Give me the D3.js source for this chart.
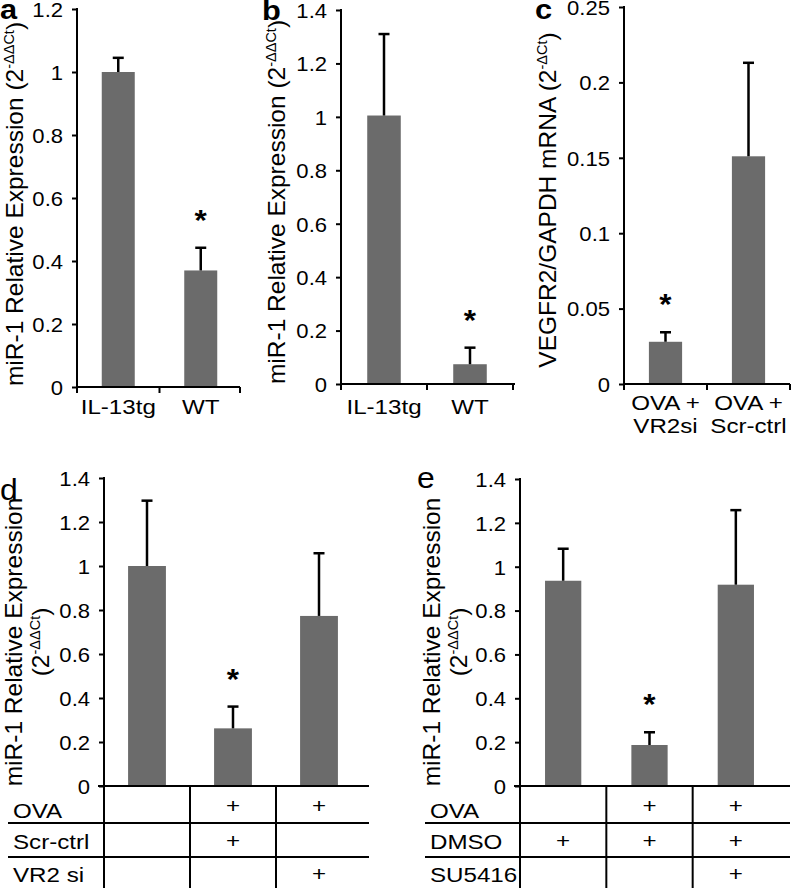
<!DOCTYPE html>
<html>
<head>
<meta charset="utf-8">
<script src="https://cdn.jsdelivr.net/npm/d3@7"></script>
<style>
  body { margin: 0; background: #fff; }
  svg { display: block; }
  text { font-family: "Liberation Sans", Arial, Helvetica, sans-serif; fill: #000; }
</style>
</head>
<body>
<svg id="chart" width="791" height="888"></svg>
<script>
// ---------------- DATA ----------------
const aCategories = [["IL-13tg"], ["WT"]];
const aValues = [1.0, 0.37];
const aErrors = [0.045, 0.072];
const aSignif = [false, true];
const aTicks = [0, 0.2, 0.4, 0.6, 0.8, 1, 1.2];

const bCategories = [["IL-13tg"], ["WT"]];
const bValues = [1.005, 0.074];
const bErrors = [0.305, 0.062];
const bSignif = [false, true];
const bTicks = [0, 0.2, 0.4, 0.6, 0.8, 1, 1.2, 1.4];

const cCategories = [["OVA +", "VR2si"], ["OVA +", "Scr-ctrl"]];
const cValues = [0.028, 0.151];
const cErrors = [0.0063, 0.062];
const cSignif = [true, false];
const cTicks = [0, 0.05, 0.1, 0.15, 0.2, 0.25];

const dValues = [1.0, 0.262, 0.773];
const dErrors = [0.297, 0.099, 0.285];
const dSignif = [false, true, false];
const dTicks = [0, 0.2, 0.4, 0.6, 0.8, 1, 1.2, 1.4];
const dRows = ["OVA", "Scr-ctrl", "VR2 si"];
const dMarks = [[false, true, true], [false, true, false], [false, false, true]];

const eValues = [0.936, 0.187, 0.918];
const eErrors = [0.146, 0.058, 0.34];
const eSignif = [false, true, false];
const eTicks = [0, 0.2, 0.4, 0.6, 0.8, 1, 1.2, 1.4];
const eRows = ["OVA", "DMSO", "SU5416"];
const eMarks = [[false, true, true], [true, true, true], [false, false, true]];

// ---------------- DRAWING ----------------
const svg = d3.select("#chart");
const BAR = "#6b6b6b";
const SX = 1.15;      // horizontal stretch of upright labels
const LABEL_SIZE = 21;
const TICK_SIZE = 21;
const TITLE_SIZE = 24.5;

function htext(g, x, y, str, size, anchor, sx, weight) {
  return g.append("text")
    .attr("transform", `translate(${x},${y}) scale(${sx},1)`)
    .attr("text-anchor", anchor)
    .attr("font-size", size)
    .attr("font-weight", weight || "normal")
    .text(str);
}

function vtitle(g, x, y, main, sup, tail) {
  const t = g.append("text")
    .attr("transform", `translate(${x},${y}) rotate(-90)`)
    .attr("text-anchor", "middle")
    .attr("font-size", TITLE_SIZE);
  t.append("tspan").text(main);
  if (sup) {
    t.append("tspan").attr("font-size", 14.5).attr("dy", -9.5).text(sup);
    t.append("tspan").attr("dy", 9.5).text(tail);
  }
}

function panel(L, values, errors, signif, ticks) {
  const g = svg.append("g");
  const n = values.length;
  const x = d3.scaleBand().domain(d3.range(n)).range([L.x0, L.x1])
    .paddingInner(L.pad).paddingOuter(L.pad / 2);
  const y = d3.scaleLinear().domain([0, ticks[ticks.length - 1]]).range([L.yb, L.yt]);
  const cx = i => x(i) + x.bandwidth() / 2;

  // bars
  g.selectAll("rect.bar").data(values).join("rect")
    .attr("class", "bar")
    .attr("x", (d, i) => x(i)).attr("y", d => y(d))
    .attr("width", x.bandwidth()).attr("height", d => y(0) - y(d))
    .attr("fill", BAR);

  // error bars
  const eb = g.selectAll("g.err").data(values).join("g").attr("class", "err");
  eb.append("line")
    .attr("x1", (d, i) => cx(i)).attr("x2", (d, i) => cx(i))
    .attr("y1", d => y(d)).attr("y2", (d, i) => y(d + errors[i]))
    .attr("stroke", "#000").attr("stroke-width", 2.5);
  eb.append("line")
    .attr("x1", (d, i) => cx(i) - 5.5).attr("x2", (d, i) => cx(i) + 5.5)
    .attr("y1", (d, i) => y(d + errors[i])).attr("y2", (d, i) => y(d + errors[i]))
    .attr("stroke", "#000").attr("stroke-width", 2.5);

  // significance asterisks
  values.forEach((d, i) => {
    if (signif[i]) {
      htext(g, cx(i), y(d + errors[i]) - 35 + 17, "*", 30, "middle", 1.05, "bold");
    }
  });

  // y axis ticks + labels
  const ax = g.append("g").attr("transform", `translate(${L.x0},0)`)
    .call(d3.axisLeft(y).tickValues(ticks).tickFormat(d => String(d))
      .tickSize(5).tickSizeOuter(0).tickPadding(9));
  ax.select(".domain").remove();
  ax.selectAll(".tick line").attr("stroke", "#000").attr("stroke-width", 2);
  ax.selectAll(".tick text")
    .attr("font-size", TICK_SIZE)
    .attr("font-family", '"Liberation Sans", Arial, sans-serif')
    .attr("fill", "#000")
    .attr("x", -14 / 1.05)
    .attr("dy", "0.35em")
    .attr("transform", "scale(1.05,1)");

  // y axis line
  g.append("line").attr("x1", L.x0).attr("x2", L.x0)
    .attr("y1", L.yt - 1).attr("y2", L.yAxisBottom || L.yb)
    .attr("stroke", "#000").attr("stroke-width", 2);

  // x axis line
  g.append("line").attr("x1", L.xAxisStart || L.x0).attr("x2", L.xEnd)
    .attr("y1", L.yb).attr("y2", L.yb)
    .attr("stroke", "#000").attr("stroke-width", 2);

  return { g, x, y, cx };
}

function catAxis(P, L, cats) {
  const n = cats.length;
  const step = P.x.step();
  d3.range(n + 1).forEach(i => {
    const xx = Math.min(L.x0 + i * step, L.xEnd);
    P.g.append("line").attr("x1", xx).attr("x2", xx)
      .attr("y1", L.yb).attr("y2", L.yb + 6)
      .attr("stroke", "#000").attr("stroke-width", 2);
  });
  cats.forEach((lines, i) => {
    lines.forEach((s, k) => {
      htext(P.g, P.cx(i), L.lab + k * 23, s, LABEL_SIZE, "middle", SX);
    });
  });
}

function table(P, L, rows, marks) {
  const n = marks[0].length;
  const step = P.x.step();
  // column separators
  d3.range(n).forEach(i => {
    const xx = L.x0 + i * step;
    P.g.append("line").attr("x1", xx).attr("x2", xx)
      .attr("y1", L.yb).attr("y2", 888)
      .attr("stroke", "#000").attr("stroke-width", 2);
  });
  // row separators
  L.rowLines.forEach(yy => {
    P.g.append("line").attr("x1", L.tableLeft).attr("x2", L.xEnd)
      .attr("y1", yy).attr("y2", yy)
      .attr("stroke", "#000").attr("stroke-width", 2);
  });
  rows.forEach((r, k) => {
    htext(P.g, L.tableLeft + 5, L.rowBase[k], r, LABEL_SIZE, "start", SX);
    marks[k].forEach((m, i) => {
      if (m) htext(P.g, P.cx(i), L.plusBase[k], "+", LABEL_SIZE, "middle", SX);
    });
  });
}

// ---- panel a ----
const LA = { x0: 77, x1: 242, xEnd: 240, yt: 9, yb: 387, pad: 0.6, lab: 414 };
const PA = panel(LA, aValues, aErrors, aSignif, aTicks);
catAxis(PA, LA, aCategories);
vtitle(PA.g, 23, 204, "miR-1 Relative Expression (2", "-ΔΔCt", ")");
htext(PA.g, 0, 19, "a", 28, "start", 1.1, "bold");

// ---- panel b ----
const LB = { x0: 341, x1: 513, xEnd: 515, yt: 10, yb: 384, pad: 0.61, lab: 414 };
const PB = panel(LB, bValues, bErrors, bSignif, bTicks);
catAxis(PB, LB, bCategories);
vtitle(PB.g, 285, 202, "miR-1 Relative Expression (2", "-ΔΔCt", ")");
htext(PB.g, 262, 20, "b", 28, "start", 1.1, "bold");

// ---- panel c ----
const LC = { x0: 624, x1: 790, xEnd: 790, yt: 7, yb: 384, pad: 0.6, lab: 410 };
const PC = panel(LC, cValues, cErrors, cSignif, cTicks);
catAxis(PC, LC, cCategories);
vtitle(PC.g, 556, 200, "VEGFR2/GAPDH mRNA (2", "-ΔCt", ")");
htext(PC.g, 535, 19, "c", 28, "start", 1.1, "bold");

// ---- panel d ----
const LD = { x0: 104, x1: 362, xEnd: 369, xAxisStart: 98, yt: 478, yb: 786, yAxisBottom: 888, pad: 0.56,
             tableLeft: 8, rowLines: [823, 857], rowBase: [818, 849, 882], plusBase: [813, 848, 881] };
const PD = panel(LD, dValues, dErrors, dSignif, dTicks);
table(PD, LD, dRows, dMarks);
vtitle(PD.g, 22, 642, "miR-1 Relative Expression");
vtitle(PD.g, 49, 642, "(2", "-ΔΔCt", ")");
htext(PD.g, 0, 500, "d", 29, "start", 1.1);

// ---- panel e ----
const LE = { x0: 520, x1: 779, xEnd: 790, xAxisStart: 514, yt: 479, yb: 786, yAxisBottom: 888, pad: 0.58,
             tableLeft: 425, rowLines: [823, 857], rowBase: [818, 849, 882], plusBase: [813, 848, 881] };
const PE = panel(LE, eValues, eErrors, eSignif, eTicks);
table(PE, LE, eRows, eMarks);
vtitle(PE.g, 440, 642, "miR-1 Relative Expression");
vtitle(PE.g, 467, 642, "(2", "-ΔΔCt", ")");
htext(PE.g, 417, 488, "e", 29, "start", 1.1);
</script>
</body>
</html>
